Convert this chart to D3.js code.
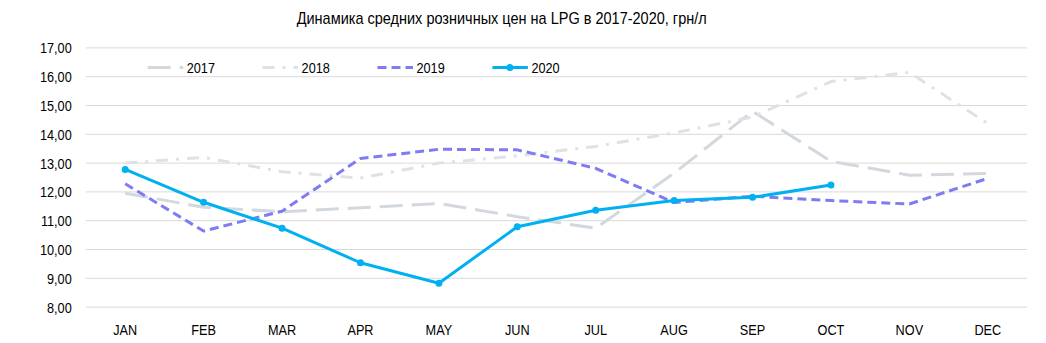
<!DOCTYPE html>
<html><head><meta charset="utf-8">
<script src="https://cdn.jsdelivr.net/npm/d3@7"></script>
<style>
body{margin:0;background:#fff;}
text{font-family:"Liberation Sans",Arial,sans-serif;fill:#000;}
</style></head><body>
<svg id="c" width="1046" height="343"></svg>
<script>
const months = ["JAN","FEB","MAR","APR","MAY","JUN","JUL","AUG","SEP","OCT","NOV","DEC"];
const s2017 = [11.95,11.47,11.31,11.45,11.60,11.14,10.74,12.65,14.80,13.06,12.58,12.64];
const s2018 = [13.00,13.20,12.70,12.48,13.00,13.25,13.58,14.05,14.60,15.83,16.15,14.37];
const s2019 = [12.28,10.64,11.33,13.16,13.48,13.46,12.82,11.63,11.85,11.70,11.58,12.47];
const s2020 = [12.78,11.64,10.74,9.54,8.83,10.79,11.36,11.70,11.81,12.24];
const yTicks = [8,9,10,11,12,13,14,15,16,17];
const title = "Динамика средних розничных цен на LPG в 2017-2020, грн/л";

const series = [
  {name:"2017", values:s2017, color:"#d3d8df", dash:"23,9", width:3, marker:false},
  {name:"2018", values:s2018, color:"#dee2e8", dash:"12,8,3,8", width:3, marker:false},
  {name:"2019", values:s2019, color:"#7f7bf3", dash:"9,5", width:3, marker:false},
  {name:"2020", values:s2020, color:"#00b0f0", dash:null, width:3, marker:true}
];

const SX = 0.82, FS = 15.5;
const svg = d3.select("#c");
const mL=86, mR=1027, mT=47.9, mB=307.1;
const x = d3.scaleBand().domain(months).range([mL,mR]);
const y = d3.scaleLinear().domain([8,17]).range([mB,mT]);

svg.append("text").attr("x",501.7).attr("y",24).attr("text-anchor","middle")
  .attr("textLength",410).attr("lengthAdjust","spacingAndGlyphs")
  .style("font-size","17px").text(title);

svg.append("g").selectAll("line").data(yTicks).join("line")
  .attr("x1",mL).attr("x2",mR)
  .attr("y1",d=>y(d)).attr("y2",d=>y(d))
  .attr("stroke","#d9d9d9").attr("stroke-width",1);

const fmt = d=>d.toFixed(2).replace(".",",");
const yAxis = svg.append("g").attr("transform",`translate(${mL},0)`)
  .call(d3.axisLeft(y).tickValues(yTicks).tickFormat(fmt).tickSize(0).tickPadding(14));
yAxis.select(".domain").remove();
yAxis.selectAll("text").style("font-size",FS+"px").style("font-family",'"Liberation Sans",Arial,sans-serif')
  .attr("fill","#000").attr("x",-14.3/SX).attr("transform",`scale(${SX},1)`);

const xAxis = svg.append("g").attr("transform",`translate(0,${mB})`)
  .call(d3.axisBottom(x).tickSize(0).tickPadding(17));
xAxis.select(".domain").remove();
xAxis.selectAll("text").style("font-size",FS+"px").style("font-family",'"Liberation Sans",Arial,sans-serif')
  .attr("fill","#000").attr("transform",`scale(${SX},1)`);

const line = d3.line().x((d,i)=>x(months[i])+x.bandwidth()/2).y(d=>y(d));
series.forEach(s=>{
  svg.append("path").datum(s.values).attr("d",line)
    .attr("fill","none").attr("stroke",s.color).attr("stroke-width",s.width)
    .attr("stroke-dasharray",s.dash).attr("stroke-linejoin","round");
  if(s.marker){
    svg.append("g").selectAll("circle").data(s.values).join("circle")
      .attr("cx",(d,i)=>x(months[i])+x.bandwidth()/2).attr("cy",d=>y(d))
      .attr("r",3.5).attr("fill",s.color);
  }
});

const lg = svg.append("g");
series.forEach((s,i)=>{
  const lx = 147.7 + i*114.9, ly = 67.5;
  lg.append("line").attr("x1",lx).attr("x2",lx+35.5).attr("y1",ly).attr("y2",ly)
    .attr("stroke",s.color).attr("stroke-width",s.width).attr("stroke-dasharray",s.dash);
  if(s.marker) lg.append("circle").attr("cx",lx+17.5).attr("cy",ly).attr("r",3.5).attr("fill",s.color);
  lg.append("text").attr("transform",`translate(${lx+39},${ly+5.3}) scale(${SX},1)`)
    .style("font-size",FS+"px").text(s.name);
});
</script></body></html>
